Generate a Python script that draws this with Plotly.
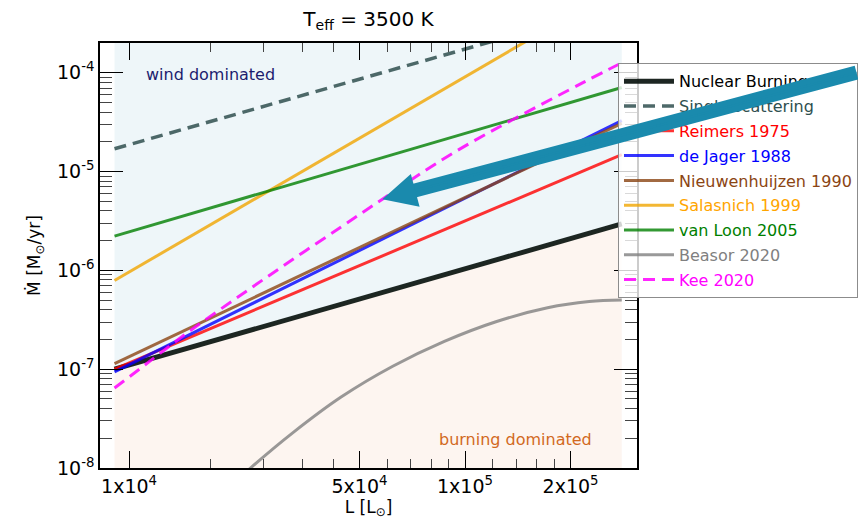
import numpy as np
import plotly.graph_objects as go

# Luminosity span of the grid [L_sun]
L_ends = [1.0e4, 2.8e5]

# Power-law prescriptions, Mdot [M_sun/yr] at the two ends of the grid
mdot_nuclear = [1.0e-7, 2.95e-6]
mdot_single = [1.70e-5, 4.9e-4]
mdot_reimers = [1.0e-7, 1.48e-5]
mdot_dejager = [9.4e-8, 3.28e-5]
mdot_nieuwenhuijzen = [1.14e-7, 3.08e-5]
mdot_salasnich = [7.9e-7, 7.6e-4]
mdot_vanloon = [2.22e-6, 7.1e-5]

# Beasor et al. 2020 (curved in this plane)
L_beasor = [2.14e4, 2.46e4, 3.23e4, 4.43e4, 6.22e4, 8.73e4, 1.225e5, 1.72e5, 2.26e5, 2.8e5]
mdot_beasor = [6.5e-9, 1.02e-8, 2.28e-8, 5.22e-8, 1.07e-7, 1.91e-7, 3.02e-7, 4.18e-7, 4.83e-7, 5.01e-7]

# Kee et al. 2021 model
L_kee = [1.0e4, 1.22e4, 1.60e4, 2.25e4, 3.16e4, 4.43e4, 5.81e4, 9.47e4, 2.17e5, 2.8e5]
mdot_kee = [6.46e-8, 1.10e-7, 2.29e-7, 5.37e-7, 1.23e-6, 2.75e-6, 5.25e-6, 1.62e-5, 7.94e-5, 1.26e-4]

# Axis limits and ticks
x_lim = [9.09e3, 3.095e5]
y_lim = [1e-8, 2e-4]
x_ticks = [1.1e4, 5e4, 1e5, 2e5]
y_ticks = [1e-8, 1e-7, 1e-6, 1e-5, 1e-4]


def sci_label(v):
    mant, exp = f"{v:.0e}".split("e")
    return f"{mant}x10<sup>{int(exp)}</sup>"


x_ticktext = [sci_label(v) for v in x_ticks]
y_ticktext = [f"10<sup>{int(round(np.log10(v)))}</sup>" for v in y_ticks]

# four linearly spaced minor ticks between consecutive labelled ticks
x_minor = []
for a, b in zip(x_ticks[:-1], x_ticks[1:]):
    x_minor += list(np.linspace(a, b, 6)[1:-1])
y_minor = [k * 10.0 ** e for e in range(-8, -4) for k in range(2, 10)]

FONT = "DejaVu Sans"

fig = go.Figure()

# background regions split by the nuclear-burning rate
fig.add_trace(go.Scatter(x=L_ends, y=[y_lim[0]] * 2, mode="lines",
                         line=dict(width=0), showlegend=False, hoverinfo="skip"))
fig.add_trace(go.Scatter(x=L_ends, y=mdot_nuclear, mode="lines", fill="tonexty",
                         fillcolor="#fdf5f0", line=dict(width=0),
                         showlegend=False, hoverinfo="skip"))
fig.add_trace(go.Scatter(x=L_ends, y=[y_lim[1]] * 2, mode="lines", fill="tonexty",
                         fillcolor="#eef6f9", line=dict(width=0),
                         showlegend=False, hoverinfo="skip"))

series = [
    ("Nuclear Burning", L_ends, mdot_nuclear, "#000000", "rgba(10,20,15,0.92)", 5, None),
    ("Single scattering", L_ends, mdot_single, "#2f4f4f", "rgba(47,79,79,0.85)", 3.5, "12px,7px"),
    ("Reimers 1975", L_ends, mdot_reimers, "#ff0000", "rgba(255,0,0,0.8)", 3, None),
    ("de Jager 1988", L_ends, mdot_dejager, "#0000ff", "rgba(0,0,255,0.8)", 3, None),
    ("Nieuwenhuijzen 1990", L_ends, mdot_nieuwenhuijzen, "#8b4513", "rgba(139,69,19,0.8)", 3, None),
    ("Salasnich 1999", L_ends, mdot_salasnich, "#ffa500", "rgba(240,165,0,0.8)", 3, None),
    ("van Loon 2005", L_ends, mdot_vanloon, "#008000", "rgba(0,128,0,0.8)", 3, None),
    ("Beasor 2020", L_beasor, mdot_beasor, "#808080", "rgba(128,128,128,0.8)", 3, None),
    ("Kee 2020", L_kee, mdot_kee, "#ff00ff", "rgba(255,0,255,0.85)", 3, "12px,7px"),
]

for i, (name, xs, ys, txtcol, col, w, dash) in enumerate(series):
    fig.add_trace(go.Scatter(
        x=xs, y=ys, mode="lines",
        name=f"<span style='color:{txtcol}'>{name}</span>",
        legendgroup=f"g{i}",
        line=dict(color=col, width=w, dash=dash, shape="spline", smoothing=1.0),
        hoverinfo="skip",
    ))

# big arrow pointing at the Kee 2020 curve
tip_x, tip_y = L_kee[6], mdot_kee[6]
arrow_col = "#1a8aad"
arrow_ax, arrow_ay = 530, -127
annotations = [
    dict(x=np.log10(tip_x), y=np.log10(tip_y), xref="x", yref="y", text="",
         showarrow=True, arrowhead=0, arrowwidth=14, arrowcolor=arrow_col,
         standoff=20, ax=arrow_ax, ay=arrow_ay),
    dict(x=np.log10(tip_x), y=np.log10(tip_y), xref="x", yref="y", text="",
         showarrow=True, arrowhead=2, arrowwidth=2, arrowsize=3.4,
         arrowcolor=arrow_col, ax=arrow_ax, ay=arrow_ay),
    dict(x=0.2067, y=0.927, xref="paper", yref="paper", text="wind dominated",
         xanchor="center", yanchor="middle",
         showarrow=False, font=dict(family=FONT, size=16, color="#1c1c6e")),
    dict(x=0.7743, y=0.066, xref="paper", yref="paper", text="burning dominated",
         xanchor="center", yanchor="middle",
         showarrow=False, font=dict(family=FONT, size=16, color="#d2691e")),
]

fig.update_layout(
    width=858, height=522,
    margin=dict(l=100, r=221, t=43, b=54, autoexpand=False),
    paper_bgcolor="white", plot_bgcolor="white",
    font=dict(family=FONT, size=16, color="black"),
    title=dict(text="T<sub>eff</sub> = 3500 K", x=0.5, xref="paper",
               y=1 - 19 / 522, yref="container", yanchor="middle",
               font=dict(family=FONT, size=20, color="black")),
    showlegend=True,
    legend=dict(x=0.9646, y=0.9522, xanchor="left", yanchor="top",
                bgcolor="rgba(255,255,255,0.8)", bordercolor="#8c8c8c", borderwidth=1,
                font=dict(family=FONT, size=16), itemwidth=50,
                entrywidth=200, entrywidthmode="pixels",
                traceorder="grouped", tracegroupgap=1),
    annotations=annotations,
)

fig.update_xaxes(
    type="log", range=[np.log10(x_lim[0]), np.log10(x_lim[1])],
    showgrid=False, zeroline=False,
    showline=True, linecolor="black", linewidth=1.5, mirror="ticks",
    ticks="inside", ticklen=17, tickwidth=1.2, tickcolor="black",
    tickmode="array", tickvals=x_ticks, ticktext=x_ticktext,
    tickfont=dict(family=FONT, size=19, color="black"),
    minor=dict(ticks="inside", ticklen=9, tickwidth=1.2, tickcolor="#444",
               tickmode="array", tickvals=x_minor),
    title=dict(text="L [L<sub>⊙</sub>]", font=dict(family=FONT, size=17), standoff=2),
)
fig.update_yaxes(
    type="log", range=[np.log10(y_lim[0]), np.log10(y_lim[1])],
    showgrid=False, zeroline=False,
    showline=True, linecolor="black", linewidth=1.5, mirror="ticks",
    ticks="inside", ticklen=23, tickwidth=1.2, tickcolor="black",
    tickmode="array", tickvals=y_ticks, ticktext=y_ticktext,
    tickfont=dict(family=FONT, size=19, color="black"),
    minor=dict(ticks="inside", ticklen=12, tickwidth=1.2, tickcolor="#444",
               tickmode="array", tickvals=y_minor),
    title=dict(text="Ṁ [M<sub>⊙</sub>/yr]", font=dict(family=FONT, size=17), standoff=12),
)

fig.write_html("out.html")
